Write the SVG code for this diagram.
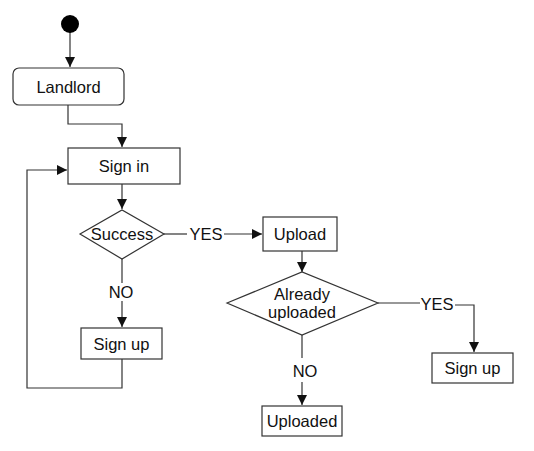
<svg xmlns="http://www.w3.org/2000/svg" width="534" height="451" viewBox="0 0 534 451">
<style>
.n{fill:#fff;stroke:#333;stroke-width:1.2}
.t{font-family:"Liberation Sans",Arial,sans-serif;font-size:16.5px;fill:#111;text-anchor:middle;dominant-baseline:central}
.c{fill:none;stroke:#333;stroke-width:1.2}
</style>
<defs>
<marker id="a" viewBox="0 0 10 10" refX="10" refY="5" markerWidth="10" markerHeight="10" markerUnits="userSpaceOnUse" orient="auto">
<path d="M0,0L10,5L0,10z" fill="#111"/>
</marker>
</defs>
<rect width="534" height="451" fill="#fff"/>
<g id="connectors">
<path class="c" d="M70,32V67" marker-end="url(#a)"/>
<path class="c" d="M68,105V124H122V147" marker-end="url(#a)"/>
<path class="c" d="M122,184V209" marker-end="url(#a)"/>
<path class="c" d="M164,234H187"/>
<path class="c" d="M224,234H262" marker-end="url(#a)"/>
<path class="c" d="M302,251V272" marker-end="url(#a)"/>
<path class="c" d="M378,303H420"/>
<path class="c" d="M455,305H474V352" marker-end="url(#a)"/>
<path class="c" d="M302,335V358"/>
<path class="c" d="M302,382V405" marker-end="url(#a)"/>
<path class="c" d="M122,259V283"/>
<path class="c" d="M122,301V327" marker-end="url(#a)"/>
<path class="c" d="M122,359V388H27V170H67" marker-end="url(#a)"/>
<text class="t" x="206" y="234">YES</text>
<text class="t" x="437" y="304">YES</text>
<text class="t" x="305" y="371">NO</text>
<text class="t" x="121" y="292">NO</text>
</g>
<g id="start"><circle cx="70" cy="24" r="9" fill="#000"/></g>
<g id="landlord"><rect class="n" x="13" y="68" width="111" height="37" rx="6"/><text class="t" x="68.5" y="86.5">Landlord</text></g>
<g id="signin"><rect class="n" x="68" y="148" width="112" height="36"/><text class="t" x="124" y="166">Sign in</text></g>
<g id="success"><path class="n" d="M80,234L122,210L164,234L122,259z"/><text class="t" x="122" y="234">Success</text></g>
<g id="upload"><rect class="n" x="263" y="217" width="74" height="34"/><text class="t" x="300" y="234">Upload</text></g>
<g id="already"><path class="n" d="M227,303L302,272L378,303L302,335z"/><text class="t" x="302" y="294">Already</text><text class="t" x="302" y="312">uploaded</text></g>
<g id="signup2"><rect class="n" x="432" y="353" width="81" height="30"/><text class="t" x="472.5" y="368">Sign up</text></g>
<g id="uploaded"><rect class="n" x="262" y="406" width="80" height="30"/><text class="t" x="302" y="421">Uploaded</text></g>
<g id="signup1"><rect class="n" x="81" y="328" width="81" height="31"/><text class="t" x="121.5" y="343.5">Sign up</text></g>
</svg>
